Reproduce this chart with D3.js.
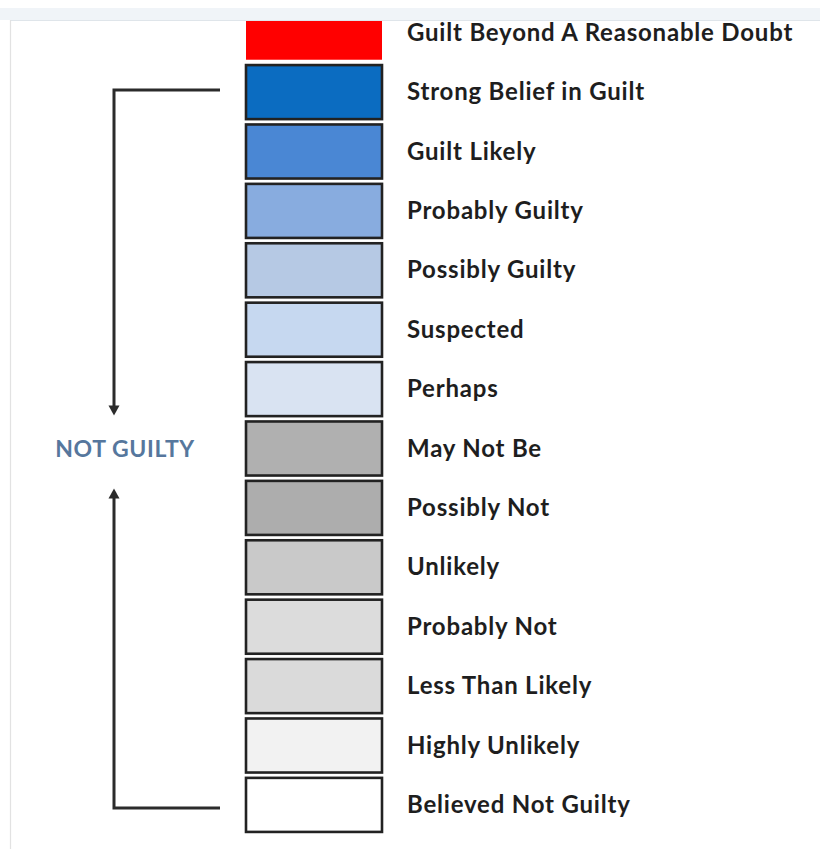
<!DOCTYPE html>
<html><head><meta charset="utf-8">
<script src="https://cdn.jsdelivr.net/npm/d3@7"></script>
<style>html,body{margin:0;padding:0;background:#fff;}svg{display:block;}</style>
</head><body>
<svg id="chart" width="820" height="849"></svg>
<script>
(function(){
const categories = ["Guilt Beyond A Reasonable Doubt","Strong Belief in Guilt","Guilt Likely","Probably Guilty","Possibly Guilty","Suspected","Perhaps","May Not Be","Possibly Not","Unlikely","Probably Not","Less Than Likely","Highly Unlikely","Believed Not Guilty"];
const fills = ["#ff0000","#0b6cc1","#4a87d4","#88acdf","#b6c9e4","#c6d8f0","#d9e3f2","#b0b0b0","#adadad","#c9c9c9","#dcdcdc","#dadada","#f2f2f2","#ffffff"];
const bracketLabel = "NOT GUILTY";

const svg = d3.select("#chart");
const y = d3.scaleBand().domain(categories).range([3, 834.6]).paddingInner(0.09).paddingOuter(0.045);
const x0 = 246, x1 = 382;

const rows = svg.append("g");
rows.selectAll("rect").data(categories).join("rect")
  .attr("x", x0).attr("y", d => y(d)).attr("width", x1 - x0).attr("height", y.bandwidth())
  .attr("fill", (d,i) => fills[i])
  .attr("stroke", (d,i) => i === 0 ? "none" : "#222").attr("stroke-width", 2.6);

rows.selectAll("text").data(categories).join("text")
  .attr("x", 407).attr("y", d => y(d) + y.bandwidth()/2 + 8)
  .attr("font-family", "Lato, 'Open Sans', sans-serif").attr("font-weight", "bold")
  .attr("font-size", 24).attr("letter-spacing", 0.8).attr("fill", "#1e1e1e")
  .text(d => d);

svg.append("rect").attr("x",0).attr("y",0).attr("width",820).attr("height",8).attr("fill","#fff");
svg.append("rect").attr("x",0).attr("y",8).attr("width",820).attr("height",12).attr("fill","#f0f4f8");
svg.append("line").attr("x1",10).attr("x2",820).attr("y1",20.5).attr("y2",20.5).attr("stroke","#dfe5ea").attr("stroke-width",1);
svg.append("line").attr("x1",10.5).attr("x2",10.5).attr("y1",20).attr("y2",849).attr("stroke","#e2e2e2").attr("stroke-width",1.2);

const yTop = y(categories[1]) + y.bandwidth()/2 - 2;
const yBot = y(categories[13]) + y.bandwidth()/2 + 3;
const mid = y(categories[7]) + y.bandwidth()/2;
const bx = 114, hx = 220;
const g = svg.append("g").attr("stroke","#2b2b2b").attr("stroke-width",3).attr("fill","none");
g.append("path").attr("d", `M${hx},${yTop}H${bx}V${mid - 40}`);
g.append("path").attr("d", `M${hx},${yBot}H${bx}V${mid + 48}`);
svg.append("path").attr("d", `M${bx-5.5},${mid-43}L${bx+5.5},${mid-43}L${bx},${mid-33}Z`).attr("fill","#2b2b2b");
svg.append("path").attr("d", `M${bx-5.5},${mid+50}L${bx+5.5},${mid+50}L${bx},${mid+40}Z`).attr("fill","#2b2b2b");

svg.append("text").attr("x", 125).attr("y", mid + 8).attr("text-anchor","middle")
  .attr("font-family","Lato, 'Open Sans', sans-serif").attr("font-weight","bold").attr("font-size",23)
  .attr("letter-spacing", 0.6).attr("fill","#56779d").text(bracketLabel);
})();
</script>
</body></html>
